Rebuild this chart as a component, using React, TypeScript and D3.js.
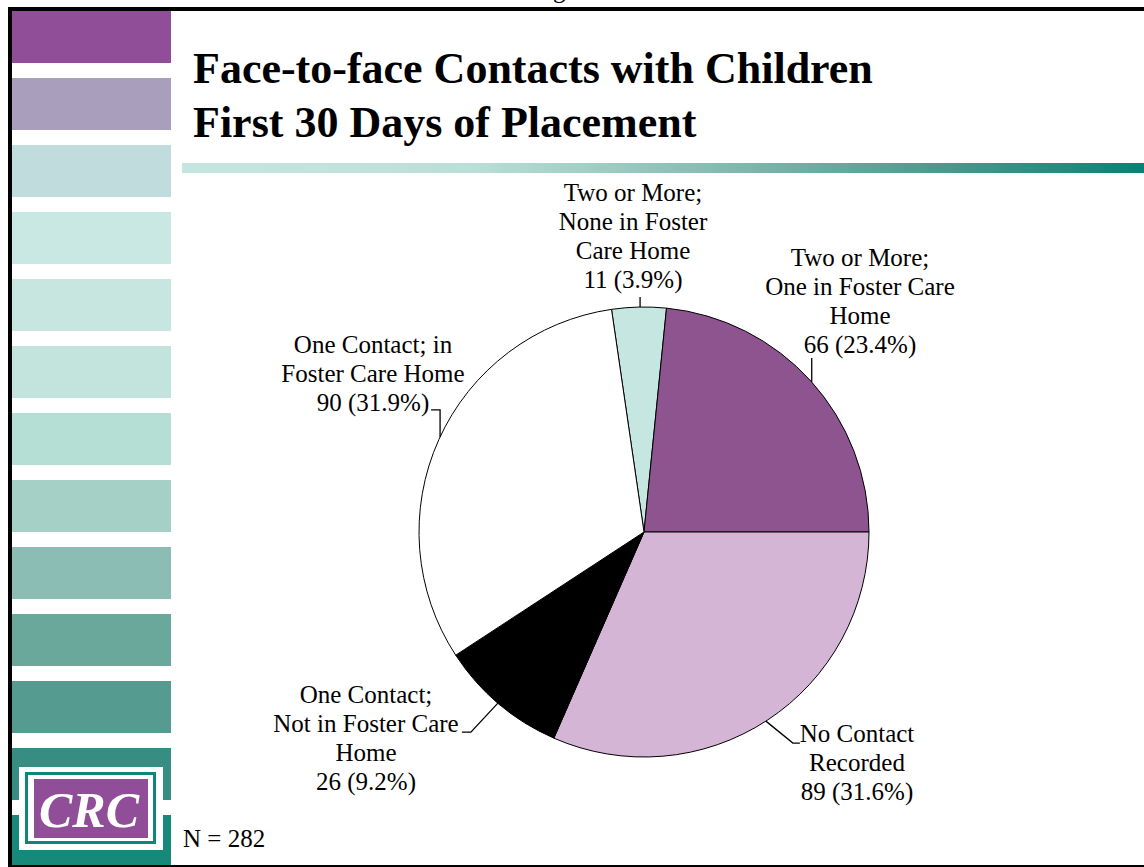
import React from "react";
import * as d3 from "d3";

// ---- data ----
const categories = [
  "Two or More; None in Foster Care Home",
  "Two or More; One in Foster Care Home",
  "No Contact Recorded",
  "One Contact; Not in Foster Care Home",
  "One Contact; in Foster Care Home",
];
const counts = [11, 66, 89, 26, 90];
const labelLines = [
  ["Two or More;", "None in Foster", "Care Home"],
  ["Two or More;", "One in Foster Care", "Home"],
  ["No Contact", "Recorded"],
  ["One Contact;", "Not in Foster Care", "Home"],
  ["One Contact; in", "Foster Care Home"],
];
const sliceColors = ["#C5E6E1", "#8E5490", "#D5B5D6", "#000000", "#FFFFFF"];
const titleLines = ["Face-to-face Contacts with Children", "First 30 Days of Placement"];
const sidebarColors = [
  "#904E98", "#A99FBC", "#C0DCDC", "#CAE8E3", "#C8E6E0", "#C2E4DD", "#B5DED5",
  "#A4D0C6", "#8BBDB4", "#6AA89C", "#559B8F", "#378D82", "#17897A",
];

// ---- layout ----
const W = 1144, H = 867;
const cx = 644, cy = 532, R = 225;
const labelFont = 25;
const lineH = 29;
const labelAnchors = [
  { x: 633, y: 201 },
  { x: 860, y: 266 },
  { x: 857, y: 742 },
  { x: 366, y: 703 },
  { x: 373, y: 353 },
];
const leaders = [
  { angle: -1, pts: [[0, -10]] },
  { angle: 48.2, pts: [[0, -24]] },
  { angle: 147.2, pts: [[27, 22], [34, 22]] },
  { angle: 220.5, pts: [[-27, 29], [-36, 29]] },
  { angle: 295, pts: [[0, -27], [-9, -27]] },
];

export default function App() {
  const total = d3.sum(counts);
  const endOfPurple = Math.PI / 2;
  const start = endOfPurple - ((counts[0] + counts[1]) / total) * 2 * Math.PI;
  const pie = d3
    .pie<number>()
    .sort(null)
    .startAngle(start)
    .endAngle(start + 2 * Math.PI)
    .value((d) => d);
  const arcs = pie(counts);
  const arc = d3.arc<d3.PieArcDatum<number>>().innerRadius(0).outerRadius(R);
  const fmt = d3.format(".1f");

  const barY = d3
    .scaleLinear()
    .domain([0, 1])
    .range([11, 78]);

  return (
    <div>
      <style>{`body{margin:0}`}</style>
      <svg
        width={W}
        height={H}
        style={{ display: "block", position: "absolute", left: 0, top: 0 }}
        fontFamily="'Liberation Serif', 'Times New Roman', serif"
      >
        <defs>
          <linearGradient id="rule" x1="0" x2="1" y1="0" y2="0">
            <stop offset="0" stopColor="#C5E6E0" />
            <stop offset="0.3" stopColor="#BADFD7" />
            <stop offset="0.55" stopColor="#86BCB2" />
            <stop offset="0.8" stopColor="#4A978B" />
            <stop offset="1" stopColor="#068274" />
          </linearGradient>
        </defs>
        <rect x={0} y={0} width={W} height={H} fill="#fff" />
        <text x={553} y={-2} fontSize={25}>g</text>

        {/* frame */}
        <rect x={8} y={7} width={W - 8} height={4} fill="#000" />
        <rect x={8} y={7} width={4} height={H - 7} fill="#000" />
        <rect x={8} y={865} width={W - 8} height={2} fill="#000" />

        {/* sidebar */}
        {sidebarColors.map((c, i) => (
          <rect key={i} x={12} y={barY(i)} width={159} height={i === 12 ? 50 : 52} fill={c} />
        ))}

        {/* CRC logo */}
        <rect x={19} y={767} width={144} height={83} fill="#fff" />
        <rect x={25} y={772} width={131} height={72} fill="#0E8778" />
        <rect x={28} y={775} width={125} height={66} fill="#fff" />
        <rect x={34} y={779} width={114} height={59} fill="#904E98" />
        <text x={89} y={827} fontSize={50} fontStyle="italic" fontWeight="bold" fill="#fff" textAnchor="middle">
          CRC
        </text>

        {/* title */}
        {titleLines.map((t, i) => (
          <text key={i} x={193} y={83 + i * 54} fontSize={44} fontWeight="bold">
            {t}
          </text>
        ))}
        <rect x={182} y={163} width={W - 182} height={10} fill="url(#rule)" />

        {/* pie */}
        <g transform={`translate(${cx},${cy})`}>
          {arcs.map((a, i) => (
            <path key={categories[i]} d={arc(a) || ""} fill={sliceColors[i]} stroke="#000" strokeWidth={1} />
          ))}
          {leaders.map((l, i) => {
            const th = (l.angle * Math.PI) / 180;
            const ex = R * Math.sin(th), ey = -R * Math.cos(th);
            const pts = [[ex, ey], ...l.pts.map(([dx, dy]) => [ex + dx, ey + dy])];
            return (
              <path
                key={i}
                d={d3.line()(pts as [number, number][]) || ""}
                fill="none"
                stroke="#000"
                strokeWidth={1.3}
              />
            );
          })}
        </g>

        {/* labels */}
        {labelLines.map((lines, i) => {
          const all = [...lines, `${counts[i]} (${fmt((counts[i] / total) * 100)}%)`];
          return (
            <text key={i} fontSize={labelFont} textAnchor="middle">
              {all.map((ln, j) => (
                <tspan key={j} x={labelAnchors[i].x} y={labelAnchors[i].y + j * lineH}>
                  {ln}
                </tspan>
              ))}
            </text>
          );
        })}

        <text x={183} y={847} fontSize={25}>N = {total}</text>
      </svg>
    </div>
  );
}
